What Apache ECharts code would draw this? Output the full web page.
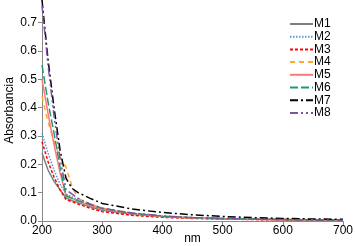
<!DOCTYPE html>
<html>
<head>
<meta charset="utf-8">
<script src="https://cdn.jsdelivr.net/npm/echarts@6/dist/echarts.min.js"></script>
<style>
html,body{margin:0;padding:0;background:#fff;}
#chart{width:355px;height:246px;}
</style>
</head>
<body>
<div id="chart"></div>
<script>
var nm = [200, 210, 220, 230, 240, 250, 260, 280, 300, 350, 400, 450, 500, 550, 600, 650, 700];

var M1 = [0.24, 0.18, 0.14, 0.11, 0.082, 0.072, 0.065, 0.05, 0.038, 0.024, 0.016, 0.011, 0.008, 0.006, 0.005, 0.004, 0.003];
var M2 = [0.31, 0.24, 0.18, 0.13, 0.095, 0.085, 0.075, 0.055, 0.04, 0.025, 0.016, 0.011, 0.008, 0.006, 0.005, 0.004, 0.003];
var M3 = [0.28, 0.21, 0.155, 0.11, 0.075, 0.068, 0.06, 0.045, 0.033, 0.02, 0.013, 0.009, 0.007, 0.005, 0.004, 0.003, 0.003];
var M4 = [0.44, 0.35, 0.28, 0.225, 0.19, 0.12, 0.08, 0.06, 0.045, 0.028, 0.017, 0.012, 0.009, 0.007, 0.005, 0.004, 0.003];
var M5 = [0.50, 0.38, 0.27, 0.17, 0.09, 0.08, 0.07, 0.055, 0.042, 0.026, 0.016, 0.011, 0.008, 0.006, 0.005, 0.004, 0.003];
var M6 = [0.55, 0.42, 0.31, 0.19, 0.09, 0.08, 0.072, 0.058, 0.045, 0.027, 0.017, 0.012, 0.009, 0.007, 0.005, 0.004, 0.003];
var M7 = [0.78, 0.57, 0.40, 0.25, 0.15, 0.115, 0.10, 0.08, 0.062, 0.042, 0.03, 0.022, 0.016, 0.012, 0.009, 0.007, 0.006];
var M8 = [0.76, 0.55, 0.37, 0.22, 0.11, 0.095, 0.08, 0.06, 0.045, 0.028, 0.018, 0.012, 0.009, 0.007, 0.005, 0.004, 0.003];

var yTicks = [0, 0.1, 0.2, 0.3, 0.4, 0.5, 0.6, 0.7];

function pts(arr){
    var out = [];
    for (var i = 0; i < nm.length; i++) out.push([nm[i], arr[i]]);
    return out;
}

function line(name, data, color, type){
    return {
        name: name,
        type: 'line',
        data: pts(data),
        symbol: 'none',
        smooth: false,
        lineStyle: {color: color, width: 1.5, type: type},
        itemStyle: {color: color}
    };
}

var chart = echarts.init(document.getElementById('chart'));
var font = 'Liberation Sans';
chart.setOption({
    animation: false,
    backgroundColor: '#fff',
    grid: {left: 42, right: 12, top: 0, bottom: 25, outerBoundsMode: 'none', containLabel: false},
    legend: {
        orient: 'vertical',
        left: 284,
        top: 13,
        itemWidth: 23,
        itemHeight: 8,
        itemGap: 0.7,
        itemStyle: {opacity: 0},
        textStyle: {fontFamily: font, fontSize: 12, color: '#000', padding: [0, 0, 0, -4]},
        data: ['M1', 'M2', 'M3', 'M4', 'M5', 'M6', 'M7', 'M8']
    },
    xAxis: {
        type: 'value',
        min: 200, max: 700, interval: 100,
        name: 'nm', nameLocation: 'middle', nameGap: 12, nameMoveOverlap: false,
        nameTextStyle: {fontFamily: font, fontSize: 12, color: '#000'},
        axisLine: {lineStyle: {color: '#888'}},
        axisTick: {show: true, length: 4, lineStyle: {color: '#888'}},
        axisLabel: {fontFamily: font, fontSize: 12, color: '#000', margin: 4},
        splitLine: {show: false}
    },
    yAxis: {
        type: 'value',
        min: 0, max: 0.78, interval: 0.1,
        name: 'Absorbancia', nameLocation: 'middle', nameGap: 26, nameMoveOverlap: false,
        nameTextStyle: {fontFamily: font, fontSize: 12, color: '#000'},
        axisLine: {show: true, lineStyle: {color: '#888'}},
        axisTick: {show: true, length: 4, lineStyle: {color: '#888'}, customValues: yTicks},
        axisLabel: {fontFamily: font, fontSize: 12, color: '#000', margin: 5, customValues: yTicks,
            formatter: function(v){ return v.toFixed(1); }},
        splitLine: {show: false}
    },
    series: [
        line('M1', M1, '#808080', 'solid'),
        line('M2', M2, '#5b9bd5', [1.5, 1.5]),
        line('M3', M3, '#ff0000', [3, 2]),
        line('M4', M4, '#ffa733', [5, 4]),
        line('M5', M5, '#ff7777', 'solid'),
        line('M6', M6, '#229a6a', [8, 3]),
        line('M7', M7, '#000000', [8, 3, 2, 3]),
        line('M8', M8, '#7e52a0', [8, 3, 2, 3, 2, 3])
    ]
});
</script>
</body>
</html>
